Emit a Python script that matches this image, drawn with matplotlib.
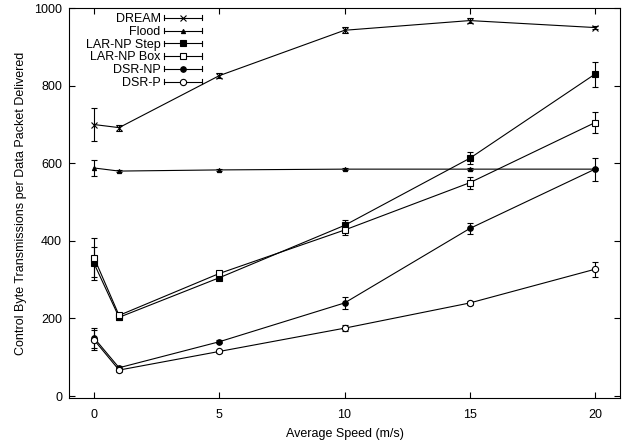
import matplotlib
matplotlib.use("Agg")
import matplotlib.pyplot as plt
from matplotlib.legend_handler import HandlerBase
from matplotlib.lines import Line2D

plt.rcParams['font.family'] = ['Liberation Sans', 'DejaVu Sans']

# Data
speed = [0, 1, 5, 10, 15, 20]

dream = [700, 692, 826, 943, 968, 950]
dream_err = [42, 8, 6, 8, 6, 5]
flood = [588, 580, 583, 585, 585, 585]
flood_err = [20, 3, 3, 3, 3, 3]
lar_step = [342, 203, 305, 440, 613, 830]
lar_step_err = [42, 6, 6, 15, 15, 32]
lar_box = [357, 208, 316, 428, 550, 705]
lar_box_err = [50, 6, 6, 12, 15, 28]
dsr_np = [150, 73, 140, 240, 432, 585]
dsr_np_err = [25, 4, 4, 15, 15, 30]
dsr_p = [145, 67, 115, 175, 240, 327]
dsr_p_err = [25, 4, 4, 8, 6, 19]

series = [
    ("DREAM", dream, dream_err, dict(marker='x', ms=4, mfc='black')),
    ("Flood", flood, flood_err, dict(marker='^', ms=3, mfc='black')),
    ("LAR-NP Step", lar_step, lar_step_err, dict(marker='s', ms=4.5, mfc='black')),
    ("LAR-NP Box", lar_box, lar_box_err, dict(marker='s', ms=4.5, mfc='white')),
    ("DSR-NP", dsr_np, dsr_np_err, dict(marker='o', ms=4, mfc='black')),
    ("DSR-P", dsr_p, dsr_p_err, dict(marker='o', ms=4.5, mfc='white')),
]

FS = 9


# gnuplot-like legend sample: horizontal bar with end caps and marker in the middle
class HandlerErrSample(HandlerBase):
    def __init__(self, style):
        super().__init__()
        self.style = style

    def create_artists(self, legend, orig_handle, xdescent, ydescent,
                       width, height, fontsize, trans):
        y = height / 2 - ydescent
        x0, x1 = -xdescent, width - xdescent
        h = height * 0.3
        arts = [Line2D([x0, x1], [y, y], color='black', lw=0.8),
                Line2D([x0, x0], [y - h, y + h], color='black', lw=0.8),
                Line2D([x1, x1], [y - h, y + h], color='black', lw=0.8),
                Line2D([(x0 + x1) / 2], [y], color='black', ls='none',
                       mec='black', mew=0.8, **self.style)]
        for a in arts:
            a.set_transform(trans)
        return arts


fig = plt.figure(figsize=(6.27, 4.41), dpi=100)
ax = fig.add_axes([0.110, 0.0975, 0.879, 0.884])

handles, labels, hmap = [], [], {}
for name, vals, err, style in series:
    ax.errorbar(speed, vals, yerr=err, color='black', lw=0.8, elinewidth=0.8,
                capsize=2.5, capthick=0.8, mec='black', mew=0.8, **style)
    h = Line2D([], [])
    handles.append(h)
    labels.append(name)
    hmap[h] = HandlerErrSample(style)

ax.set_xlim(-1, 21)
ax.set_ylim(-5, 1000)
ax.set_xticks([0, 5, 10, 15, 20])
ax.set_yticks([0, 200, 400, 600, 800, 1000])
ax.tick_params(direction='in', top=True, right=True, labelsize=FS, length=4, width=0.8, pad=5)
ax.tick_params(axis='x', pad=8)
for s in ax.spines.values():
    s.set_linewidth(0.8)

ax.set_xlabel("Average Speed (m/s)", fontsize=FS, labelpad=5)
ax.set_ylabel("Control Byte Transmissions per Data Packet Delivered", fontsize=FS, labelpad=5)

ax.legend(handles, labels, handler_map=hmap, loc='upper right', frameon=False,
          markerfirst=False, fontsize=FS, handlelength=3.0, handletextpad=0.3,
          labelspacing=0.06, borderaxespad=0.0, bbox_to_anchor=(0.25, 1.0))

fig.savefig("out.png", dpi=100)
